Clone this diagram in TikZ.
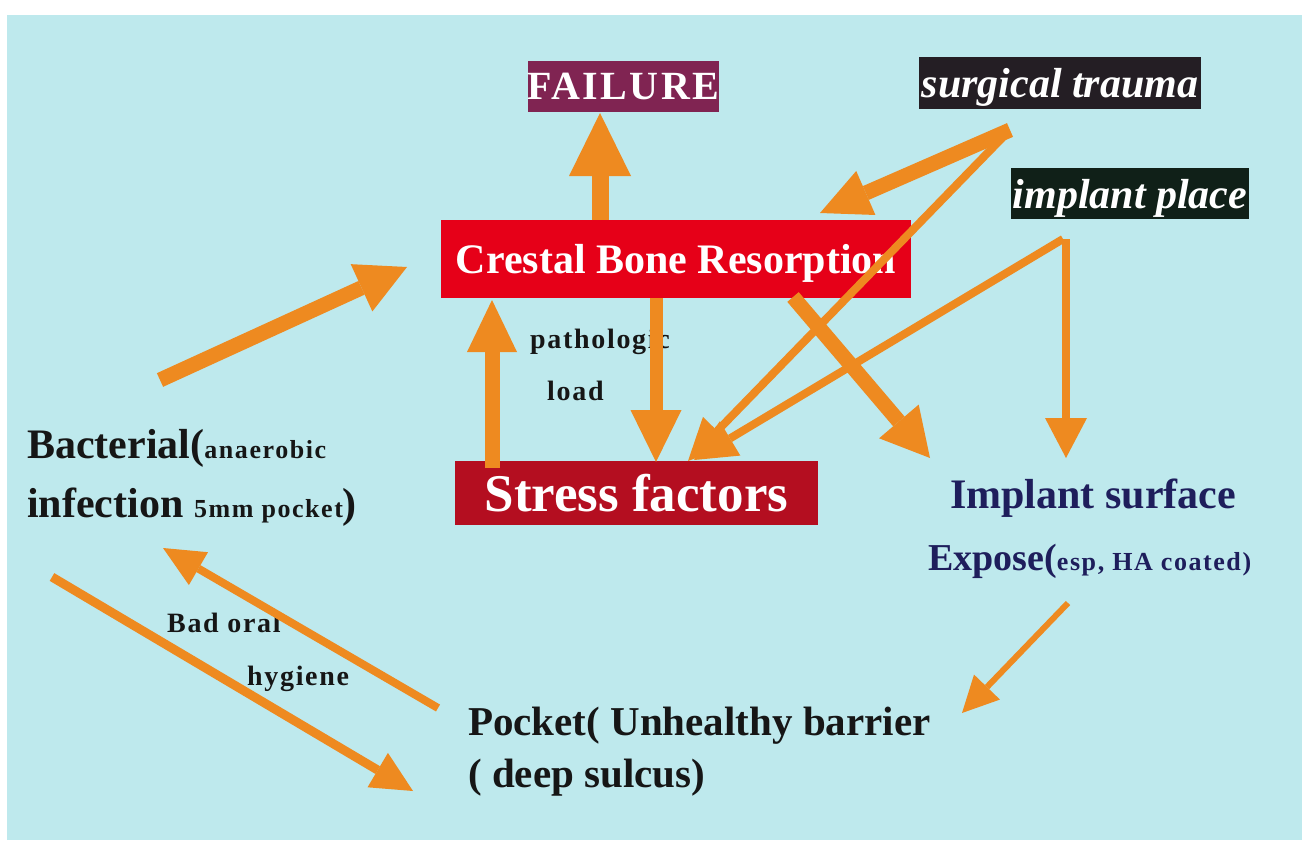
\documentclass[tikz,border=0pt]{standalone}
\usepackage{fontspec}
\setmainfont{Liberation Serif}
\newfontfamily\spacedfont[LetterSpace=6]{Liberation Serif}
\usetikzlibrary{arrows.meta}
\definecolor{bgcyan}{RGB}{190,233,237}
\definecolor{arrorange}{RGB}{238,138,32}
\definecolor{failcol}{RGB}{128,36,82}
\definecolor{crestcol}{RGB}{230,0,24}
\definecolor{stresscol}{RGB}{180,14,32}
\definecolor{surgcol}{RGB}{36,30,36}
\definecolor{placecol}{RGB}{16,32,24}
\definecolor{navyink}{RGB}{30,30,92}
\definecolor{ink}{RGB}{22,22,22}
\begin{document}
\begin{tikzpicture}[x=1pt,y=-1pt,
  boxnode/.style={inner sep=0pt, text=white, text depth=0pt},
  lbl/.style={inner sep=0pt, anchor=base west, text=ink},
  arr/.style n args={3}{draw=arrorange, line width=#1, -{Triangle[length=#2,width=#3,line width=0pt]}},
]
\useasboundingbox (0,0) rectangle (1302,843);
\fill[white] (0,0) rectangle (1302,843);
\fill[bgcyan] (7,15) rectangle (1302,840);

% boxes
\node[boxnode, fill=failcol, minimum width=191pt, minimum height=51pt, font=\spacedfont\bfseries\fontsize{40}{40}\selectfont] (failure) at (623.5,86.5) {FAILURE};
\node[boxnode, fill=crestcol, minimum width=470pt, minimum height=78pt, font=\bfseries\fontsize{42}{42}\selectfont] (crestal) at (676,259) {Crestal Bone Resorption};
\node[boxnode, fill=stresscol, minimum width=363pt, minimum height=64pt, font=\bfseries\fontsize{53}{53}\selectfont] (stress) at (636.5,493) {Stress factors};
\node[boxnode, fill=surgcol, minimum width=282pt, minimum height=52pt, font=\bfseries\itshape\fontsize{42}{42}\selectfont] (surgical) at (1060,83) {surgical trauma};
\node[boxnode, fill=placecol, minimum width=238pt, minimum height=51pt, font=\bfseries\itshape\fontsize{42}{42}\selectfont] (place) at (1130,193.5) {implant place};

% labels
\node[lbl, font=\bfseries\fontsize{42}{42}\selectfont] (bact1) at (27,458) {Bacterial({\spacedfont\fontsize{26}{26}\selectfont anaerobic}};
\node[lbl, font=\bfseries\fontsize{42}{42}\selectfont] (bact2) at (27,517) {infection {\spacedfont\fontsize{26}{26}\selectfont 5mm pocket})};
\node[lbl, font=\spacedfont\bfseries\fontsize{28}{28}\selectfont] (patho1) at (530,348) {pathologic};
\node[lbl, font=\spacedfont\bfseries\fontsize{28}{28}\selectfont] (patho2) at (547,400) {load};
\node[lbl, font=\spacedfont\bfseries\fontsize{28}{28}\selectfont] (bad1) at (167,632) {Bad oral};
\node[lbl, font=\spacedfont\bfseries\fontsize{28}{28}\selectfont] (bad2) at (247,685) {hygiene};
\node[lbl, font=\bfseries\fontsize{41}{41}\selectfont] (pocket1) at (468,735) {Pocket( Unhealthy barrier};
\node[lbl, font=\bfseries\fontsize{41}{41}\selectfont] (pocket2) at (468,787) {( deep sulcus)};
\node[lbl, text=navyink, font=\bfseries\fontsize{42}{42}\selectfont] (surf1) at (950,508) {Implant surface};
\node[lbl, text=navyink, font=\bfseries\fontsize{38}{38}\selectfont] (surf2) at (928,570) {Expose({\spacedfont\fontsize{26}{26}\selectfont esp, HA coated)}};

% connector end points
\coordinate (crestTop) at (600,220);
\coordinate (failBot) at (600,113);
\coordinate (stressTopL) at (492,468);
\coordinate (crestBotL) at (492,300);
\coordinate (crestBotM) at (656,298);
\coordinate (stressTopM) at (656,462);
\coordinate (bactOut) at (160,380);
\coordinate (crestLeft) at (407,267);
\coordinate (surgApex) at (1010,130);
\coordinate (surgApexB) at (1005,135);
\coordinate (crestTopR) at (820,213);
\coordinate (stressIn1) at (688,461);
\coordinate (stressIn2) at (694,460);
\coordinate (placeApex) at (1063,239);
\coordinate (placeApexB) at (1066,239);
\coordinate (surfTop) at (1066,458);
\coordinate (crestBotR) at (793,297);
\coordinate (surfTopL) at (930,458);
\coordinate (surfOut) at (1068,603);
\coordinate (pocketIn) at (962,713);
\coordinate (pocketOut) at (438,708);
\coordinate (bactIn) at (163,548);
\coordinate (bactOut2) at (52,577);
\coordinate (pocketIn2) at (413,791);

% arrows
\draw[arr={17pt}{63pt}{62pt}] (crestTop) -- (failBot);
\draw[arr={15pt}{52pt}{50pt}] (stressTopL) -- (crestBotL);
\draw[arr={13pt}{52pt}{51pt}] (crestBotM) -- (stressTopM);
\draw[arr={15pt}{50pt}{52pt}] (bactOut) -- (crestLeft);
\draw[arr={15pt}{50pt}{48pt}] (surgApex) -- (crestTopR);
\draw[arr={8pt}{42pt}{40pt}] (surgApexB) -- (stressIn1);
\draw[arr={8pt}{42pt}{40pt}] (placeApex) -- (stressIn2);
\draw[arr={8pt}{40pt}{42pt}] (placeApexB) -- (surfTop);
\draw[arr={15pt}{48pt}{52pt}] (crestBotR) -- (surfTopL);
\draw[arr={6pt}{36pt}{36pt}] (surfOut) -- (pocketIn);
\draw[arr={8pt}{41pt}{38pt}] (pocketOut) -- (bactIn);
\draw[arr={9pt}{41pt}{40pt}] (bactOut2) -- (pocketIn2);
\end{tikzpicture}
\end{document}
